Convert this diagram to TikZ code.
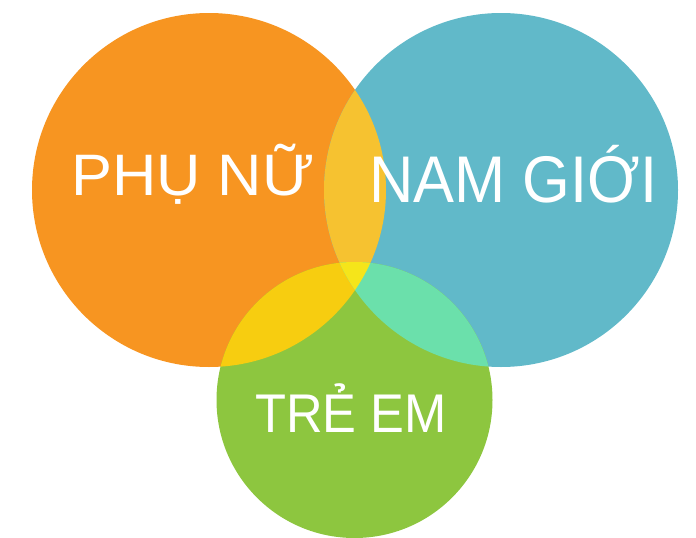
\documentclass[tikz,border=0pt]{standalone}
\usepackage{graphicx}
\usepackage{fontspec}
\setmainfont{Liberation Sans}
\definecolor{cOrange}{HTML}{F79521}
\definecolor{cBlue}{HTML}{61B9C9}
\definecolor{cGreen}{HTML}{8DC63F}
\definecolor{cOB}{HTML}{F6C230}
\definecolor{cOG}{HTML}{F7CD10}
\definecolor{cBG}{HTML}{6BE0AB}
\definecolor{cAll}{HTML}{F5E51A}
\tikzset{
  lbl/.style={text=white, anchor=base, inner sep=0pt},
}
\begin{document}
\begin{tikzpicture}[x=1pt,y=-1pt]
\useasboundingbox (0,0) rectangle (696,538);
\begin{scope}
\clip (0,0) rectangle (696,538);
\fill[cOrange] (209,190) circle [radius=177pt];
\fill[cBlue] (501,190) circle [radius=177pt];
\fill[cGreen] (354.5,400) circle [radius=138pt];
\begin{scope}
  \clip (209,190) circle [radius=177pt];
  \fill[cOB] (501,190) circle [radius=177pt];
  \fill[cOG] (354.5,400) circle [radius=138pt];
\end{scope}
\begin{scope}
  \clip (501,190) circle [radius=177pt];
  \fill[cBG] (354.5,400) circle [radius=138pt];
\end{scope}
\begin{scope}
  \clip (209,190) circle [radius=177pt];
  \clip (501,190) circle [radius=177pt];
  \fill[cAll] (354.5,400) circle [radius=138pt];
\end{scope}
\end{scope}
\node[lbl, font=\fontsize{58.5}{62}\selectfont] (pn) at (193,195) {\scalebox{1.05}[1]{PHỤ NỮ}};
\node[lbl, font=\fontsize{66}{70}\selectfont] (ng) at (513.5,202.5) {\scalebox{0.93}[1]{NAM GIỚI}};
\node[lbl, font=\fontsize{54.5}{58}\selectfont] (te) at (351,432) {\scalebox{0.93}[1]{TRẺ EM}};
\end{tikzpicture}
\end{document}
